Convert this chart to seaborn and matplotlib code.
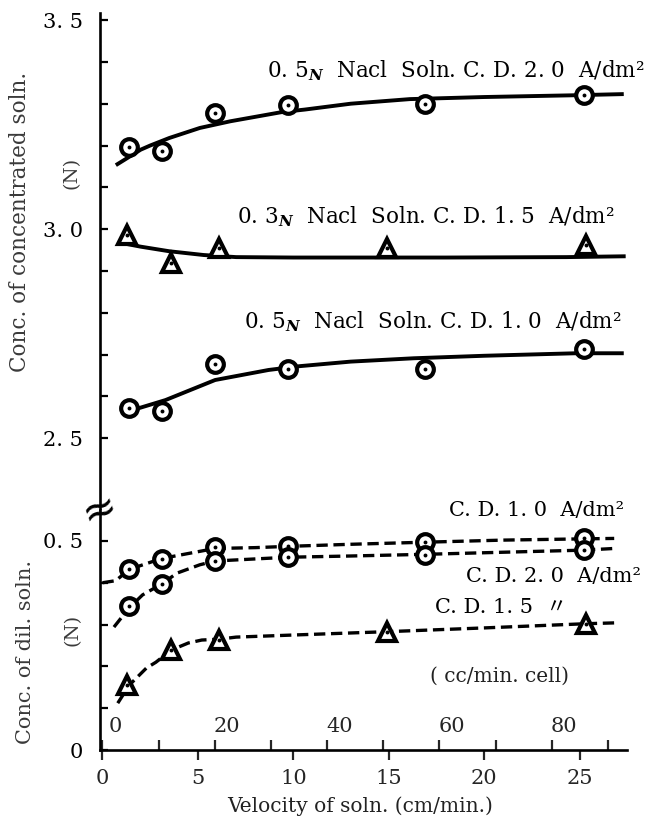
import matplotlib
matplotlib.use("Agg")
import matplotlib.pyplot as plt
import seaborn as sns

# ---------------- data ----------------
# velocity of solution (cm/min) of the measured points
circ_x = [1.4, 3.1, 5.9, 9.7, 16.9, 25.2]
tri_x = [1.3, 3.6, 6.1, 14.9, 25.3]

# concentrated solution (N)
conc_05_cd20 = [3.197, 3.187, 3.277, 3.296, 3.300, 3.320]
conc_03_cd15 = [2.986, 2.919, 2.955, 2.955, 2.962]
conc_05_cd10 = [2.572, 2.565, 2.677, 2.665, 2.665, 2.713]

# dilute solution (N)
dil_cd10 = [0.434, 0.458, 0.485, 0.487, 0.498, 0.508]
dil_cd20 = [0.345, 0.397, 0.452, 0.461, 0.467, 0.478]
dil_cd15 = [0.156, 0.239, 0.263, 0.283, 0.302]

# hand-drawn curves
fit_a_x = [0.7, 1.3, 2.0, 2.5, 3.5, 5.1, 6.7, 9.4, 10.6, 13, 16.1, 20, 24.5, 27.3]
fit_a_y = [3.153, 3.17, 3.19, 3.20, 3.218, 3.242, 3.258, 3.28, 3.286, 3.30, 3.311, 3.316, 3.32, 3.323]
fit_b_x = [1.2, 2.0, 3.5, 5.3, 7.0, 10, 13.8, 18, 24.3, 27.4]
fit_b_y = [2.965, 2.958, 2.947, 2.938, 2.933, 2.932, 2.932, 2.932, 2.933, 2.935]
fit_c_x = [1.5, 3.3, 5.9, 8.7, 10.3, 13, 16.3, 20, 24.8, 27.3]
fit_c_y = [2.566, 2.591, 2.639, 2.663, 2.672, 2.683, 2.691, 2.697, 2.703, 2.703]

fit_d10_x = [0, 0.7, 1.4, 3.1, 4.5, 5.9, 8, 9.7, 13, 16.9, 21, 25.2, 26.8]
fit_d10_y = [0.40, 0.405, 0.432, 0.458, 0.47, 0.482, 0.484, 0.487, 0.492, 0.497, 0.502, 0.505, 0.506]
fit_d20_x = [0.6, 1.4, 2.1, 3.1, 3.9, 5.1, 5.9, 9.7, 13, 16.9, 21, 25.2, 26.8]
fit_d20_y = [0.294, 0.34, 0.371, 0.397, 0.423, 0.443, 0.452, 0.461, 0.464, 0.468, 0.473, 0.478, 0.482]
fit_d15_x = [0.8, 1.4, 2.3, 2.8, 3.6, 4.5, 5.2, 6.1, 7.0, 10, 14.9, 20, 25.3, 26.8]
fit_d15_y = [0.112, 0.155, 0.196, 0.21, 0.239, 0.256, 0.263, 0.265, 0.27, 0.275, 0.283, 0.292, 0.302, 0.304]

# tick labels
top_ticks = [2.5, 3.0, 3.5]
top_tick_labels = ["2. 5", "3. 0", "3. 5"]
top_minor = [2.6, 2.7, 2.8, 2.9, 3.1, 3.2, 3.3, 3.4]
bot_ticks = [0.0, 0.5]
bot_tick_labels = ["0", "0. 5"]
bot_minor = [0.1, 0.2, 0.3, 0.4]
x_ticks = [0, 5, 10, 15, 20, 25]
x_tick_labels = ["0", "5", "10", "15", "20", "25"]
cc_ticks = [0, 10, 20, 30, 40, 50, 60, 70, 80, 90]
cc_labels = [0, 20, 40, 60, 80]
cc_per_cm = 3.4

# ---------------- styling ----------------
sns.set_style("white")
plt.rcParams["font.family"] = ["DejaVu Serif", "Noto Sans CJK JP"]
plt.rcParams["mathtext.fontset"] = "dejavuserif"

W, H = 646, 819
fig = plt.figure(figsize=(W / 100, H / 100), dpi=100)
fig.patch.set_facecolor("white")

left = 100 / W
width = 527 / W
ax_t = fig.add_axes([left, 1 - 510 / H, width, (510 - 13) / H])
ax_b = fig.add_axes([left, 1 - 750 / H, width, (750 - 510) / H], sharex=ax_t)

XLIM = (-0.13, 27.47)
ax_t.set_xlim(*XLIM)
ax_t.set_ylim(2.328, 3.517)
ax_b.set_ylim(0, 0.574)

LW_SPINE = 1.9
for ax in (ax_t, ax_b):
    ax.set_facecolor("white")
    for s in ("top", "right"):
        ax.spines[s].set_visible(False)
    ax.spines["left"].set_linewidth(LW_SPINE)
    ax.spines["left"].set_color("black")
ax_t.spines["bottom"].set_visible(False)
ax_b.spines["bottom"].set_linewidth(LW_SPINE)
ax_b.spines["bottom"].set_color("black")

# y ticks
ax_t.set_yticks(top_ticks)
ax_t.set_yticklabels(top_tick_labels)
ax_t.set_yticks(top_minor, minor=True)
ax_b.set_yticks(bot_ticks)
ax_b.set_yticklabels(bot_tick_labels)
ax_b.set_yticks(bot_minor, minor=True)
for ax in (ax_t, ax_b):
    ax.tick_params(axis="y", which="both", direction="in", length=6, width=1.6,
                   labelsize=15, pad=12, left=True, colors="black")
ax_t.tick_params(axis="x", which="both", bottom=False, labelbottom=False)

ax_b.set_xticks(x_ticks)
ax_b.set_xticklabels(x_tick_labels)
ax_b.tick_params(axis="x", which="major", direction="out", length=7, width=1.6,
                 labelsize=15, pad=7, bottom=True)

# secondary cc/min.cell scale (inward ticks)
sec = ax_b.secondary_xaxis(0, functions=(lambda v: v * cc_per_cm, lambda c: c / cc_per_cm))
sec.set_xticks(cc_ticks)
sec.tick_params(axis="x", direction="in", length=7, width=1.6, labelbottom=False)
sec.spines["bottom"].set_visible(False)
for c in cc_labels:
    ax_b.annotate(str(c), xy=(c / cc_per_cm, 0), xycoords=("data", "axes fraction"),
                  xytext=(9, 17), textcoords="offset points", ha="center", va="center",
                  fontsize=15)

# ---------------- curves ----------------
def curve(ax, x, y, dashed=False):
    sns.lineplot(x=x, y=y, ax=ax, color="black", lw=2.8 if not dashed else 2.4,
                 sort=False, estimator=None, legend=False, zorder=2)
    ln = ax.lines[-1]
    ln.set_solid_capstyle("butt")
    if dashed:
        ln.set_dashes([3.4, 1.7])
        ln.set_dash_capstyle("butt")


def points(ax, x, y, marker, size):
    sns.lineplot(x=x, y=y, ax=ax, color="black", marker=marker, linestyle="none",
                 markersize=size, markerfacecolor="white", markeredgecolor="black",
                 markeredgewidth=3.0, sort=False, estimator=None, legend=False, zorder=4)
    sns.lineplot(x=x, y=y, ax=ax, color="black", marker="o", linestyle="none",
                 markersize=2.8, markerfacecolor="black", markeredgecolor="black",
                 markeredgewidth=0, sort=False, estimator=None, legend=False, zorder=5)


curve(ax_t, fit_a_x, fit_a_y)
curve(ax_t, fit_b_x, fit_b_y)
curve(ax_t, fit_c_x, fit_c_y)
points(ax_t, circ_x, conc_05_cd20, "o", 12)
points(ax_t, tri_x, conc_03_cd15, "^", 13)
points(ax_t, circ_x, conc_05_cd10, "o", 12)

curve(ax_b, fit_d10_x, fit_d10_y, dashed=True)
curve(ax_b, fit_d20_x, fit_d20_y, dashed=True)
curve(ax_b, fit_d15_x, fit_d15_y, dashed=True)
points(ax_b, circ_x, dil_cd10, "o", 12)
points(ax_b, circ_x, dil_cd20, "o", 12)
points(ax_b, tri_x, dil_cd15, "^", 13)

for ax in (ax_t, ax_b):
    ax.set_xlabel("")
    ax.set_ylabel("")
ax_t.set_xlim(*XLIM)

# ---------------- annotations ----------------
ann = dict(fontsize=15.5, ha="right", va="center", color="black", clip_on=False)
ax_t.text(28.4, 3.380, r"0. 5$_{\boldsymbol{N}}$  Nacl  Soln. C. D. 2. 0  A/dm²", **ann)
ax_t.text(26.8, 3.029, r"0. 3$_{\boldsymbol{N}}$  Nacl  Soln. C. D. 1. 5  A/dm²", **ann)
ax_t.text(27.2, 2.778, r"0. 5$_{\boldsymbol{N}}$  Nacl  Soln. C. D. 1. 0  A/dm²", **ann)

ann_b = dict(fontsize=15, va="center", color="black", clip_on=False)
ax_b.text(27.3, 0.572, "C. D. 1. 0  A/dm²", ha="right", **ann_b)
ax_b.text(28.2, 0.414, "C. D. 2. 0  A/dm²", ha="right", **ann_b)
ax_b.text(17.4, 0.342, "C. D. 1. 5  〃", ha="left", **ann_b)
ax_b.text(20.8, 0.177, "( cc/min. cell)", ha="center", fontsize=14.5, va="center", color="#222")

# axis titles
lab = dict(rotation=90, ha="center", va="center", color="#3a3a3a")
fig.text(20 / W, 1 - 222 / H, "Conc. of concentrated soln.", fontsize=15.5, **lab)
fig.text(72 / W, 1 - 173 / H, "(N)", fontsize=14, **lab)
fig.text(26 / W, 1 - 652 / H, "Conc. of dil. soln.", fontsize=15, **lab)
fig.text(73 / W, 1 - 630 / H, "(N)", fontsize=14, **lab)
fig.text(360 / W, 1 - 806 / H, "Velocity of soln. (cm/min.)", fontsize=14.5,
         ha="center", va="center", color="#222")

# axis break mark
fig.text(100 / W, 1 - 510 / H, "≈", fontsize=30, ha="center", va="center",
         rotation=20, color="black", family="DejaVu Sans")

fig.savefig("out.png", dpi=100, facecolor="white")
